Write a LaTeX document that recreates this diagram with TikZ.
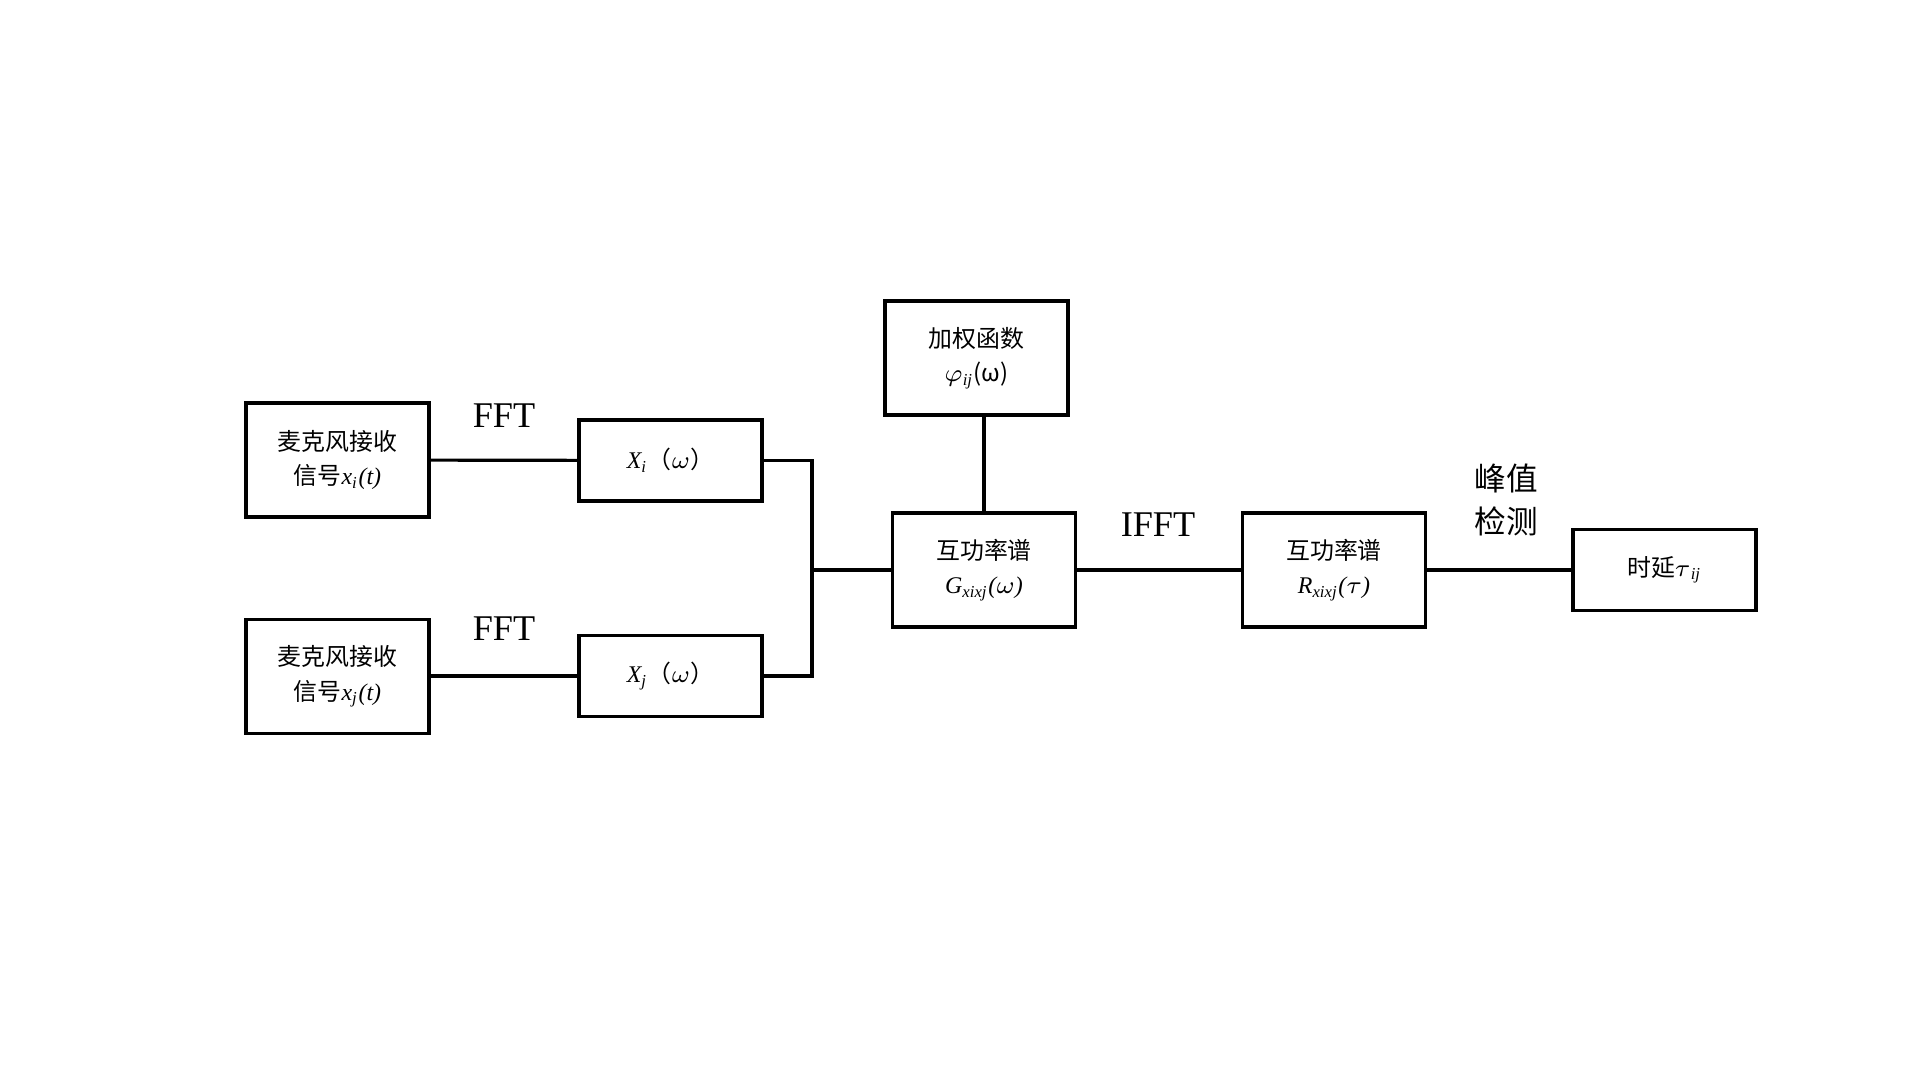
\documentclass[tikz,border=0pt]{standalone}
\usepackage{fontspec}
\setmainfont{Liberation Serif}
\newfontfamily\cjk{Noto Sans CJK SC}
\usetikzlibrary{positioning}

\begin{document}
\begin{tikzpicture}[
    blk/.style={draw, line width=0.9pt, minimum width=1.83cm, minimum height=1.14cm,
      inner sep=0pt, align=center, font=\cjk\fontsize{6.8}{9.7}\selectfont},
    blkflat/.style={blk, minimum height=0.81cm},
    lbl/.style={font=\fontsize{10.3}{11}\selectfont},
    wire/.style={line width=0.9pt}
  ]
  \useasboundingbox (0,0) rectangle (19.2,10.8);

  % Microphone signals
  \node[blk] (micI) at (3.375,6.20) {麦克风接收\\信号{\rmfamily\itshape x\textsubscript{i}(t)}};
  \node[blk] (micJ) at (3.375,4.035) {麦克风接收\\信号{\rmfamily\itshape x\textsubscript{j}(t)}};

  % Spectra after FFT
  \node[blkflat] (specI) at (6.705,6.195) {{\rmfamily\itshape X\textsubscript{i}}（$\omega$）};
  \node[blkflat] (specJ) at (6.705,4.04) {{\rmfamily\itshape X\textsubscript{j}}（$\omega$）};

  % Weighting and cross power spectrum
  \node[blk] (weight) at (9.765,7.22) {加权函数\\$\varphi$\textsubscript{\rmfamily\itshape ij}(ω)};
  \node[blk] (cpsG) at (9.84,5.10) {互功率谱\\{\rmfamily\itshape G\textsubscript{xixj}($\omega$)}};

  % Cross correlation and delay
  \node[blk] (corrR) at (13.34,5.10) {互功率谱\\{\rmfamily\itshape R\textsubscript{xixj}($\tau$)}};
  \node[blkflat] (delay) at (16.645,5.10) {时延$\tau$\textsubscript{\rmfamily\itshape ij}};

  % Connectors
  \coordinate (merge) at (8.12,5.70);
  \draw[wire] (micI) -- (specI);
  \draw[wire] (micJ.east |- specJ.west) -- (specJ);
  \draw[wire] (specI.east) -| (merge) |- (specJ.east);
  \draw[wire] (merge |- cpsG.west) -- (cpsG.west);
  \draw[wire] (cpsG.north) -- (cpsG.north |- weight.south);
  \draw[wire] (cpsG) -- (corrR);
  \draw[wire] (corrR) -- (delay);

  % Step labels
  \node[lbl] (fftI) at (5.04,6.64) {FFT};
  \node[lbl] (fftJ) at (5.04,4.51) {FFT};
  \node[lbl] (ifft) at (11.58,5.55) {IFFT};
  \node[lbl, font=\cjk\fontsize{9}{12.4}\selectfont, align=center] (peak) at (15.06,5.80) {峰值\\检测};
\end{tikzpicture}
\end{document}
